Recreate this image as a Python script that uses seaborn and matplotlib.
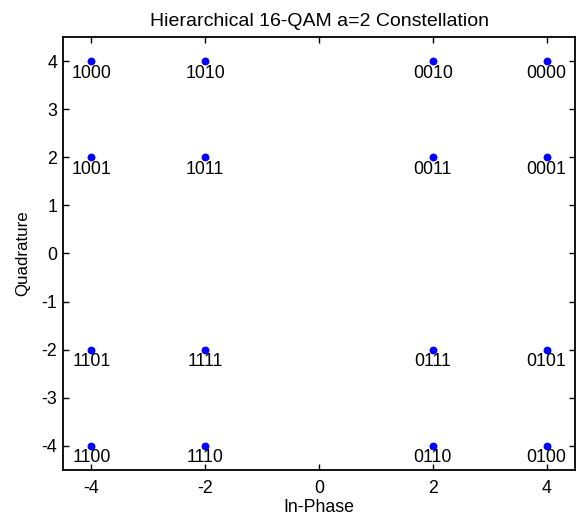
import matplotlib
matplotlib.use("Agg")
import matplotlib.pyplot as plt
import seaborn as sns
import pandas as pd

# Hierarchical 16-QAM (a=2) symbol positions and their Gray-coded bit labels
in_phase = [-4, -2, 2, 4,
            -4, -2, 2, 4,
            -4, -2, 2, 4,
            -4, -2, 2, 4]
quadrature = [4, 4, 4, 4,
              2, 2, 2, 2,
              -2, -2, -2, -2,
              -4, -4, -4, -4]
bit_labels = ["1000", "1010", "0010", "0000",
              "1001", "1011", "0011", "0001",
              "1101", "1111", "0111", "0101",
              "1100", "1110", "0110", "0100"]

x_ticks = [-4, -2, 0, 2, 4]
y_ticks = [-4, -3, -2, -1, 0, 1, 2, 3, 4]

sns.set_theme(style="white")
plt.rcParams["font.family"] = ["Liberation Sans", "DejaVu Sans"]

df = pd.DataFrame({"I": in_phase, "Q": quadrature, "bits": bit_labels})

fig = plt.figure(figsize=(5.77, 5.17), dpi=100)
ax = fig.add_axes([63 / 577, 1 - 470 / 517, 512 / 577, 433 / 517])

sns.scatterplot(data=df, x="I", y="Q", ax=ax, color="#0000ff",
                s=32, linewidth=0, legend=False, zorder=3)

for xi, yi, lab in zip(df["I"], df["Q"], df["bits"]):
    ax.text(xi, yi - 0.25, lab, ha="center", va="center",
            fontsize=12.8, color="black")

ax.set_xlim(-4.5, 4.5)
ax.set_ylim(-4.5, 4.5)
ax.set_xticks(x_ticks)
ax.set_yticks(y_ticks)
ax.set_xticklabels([str(t) for t in x_ticks])
ax.set_yticklabels([str(t) for t in y_ticks])

ax.tick_params(axis="both", direction="in", length=4, width=1, color="black",
               labelsize=12.8, labelcolor="black",
               top=True, right=True, bottom=True, left=True)
ax.tick_params(axis="x", pad=7)
ax.tick_params(axis="y", pad=4)

for side in ["top", "bottom", "left", "right"]:
    ax.spines[side].set_visible(True)
    ax.spines[side].set_color("black")
    ax.spines[side].set_linewidth(1.3)

ax.set_xlabel("In-Phase", fontsize=12.8, color="black", labelpad=2)
ax.set_ylabel("Quadrature", fontsize=12.2, color="black", labelpad=8)
ax.set_title("Hierarchical 16-QAM a=2 Constellation", fontsize=14,
             color="black", pad=8)

fig.savefig("out.png", dpi=100, facecolor="white")
